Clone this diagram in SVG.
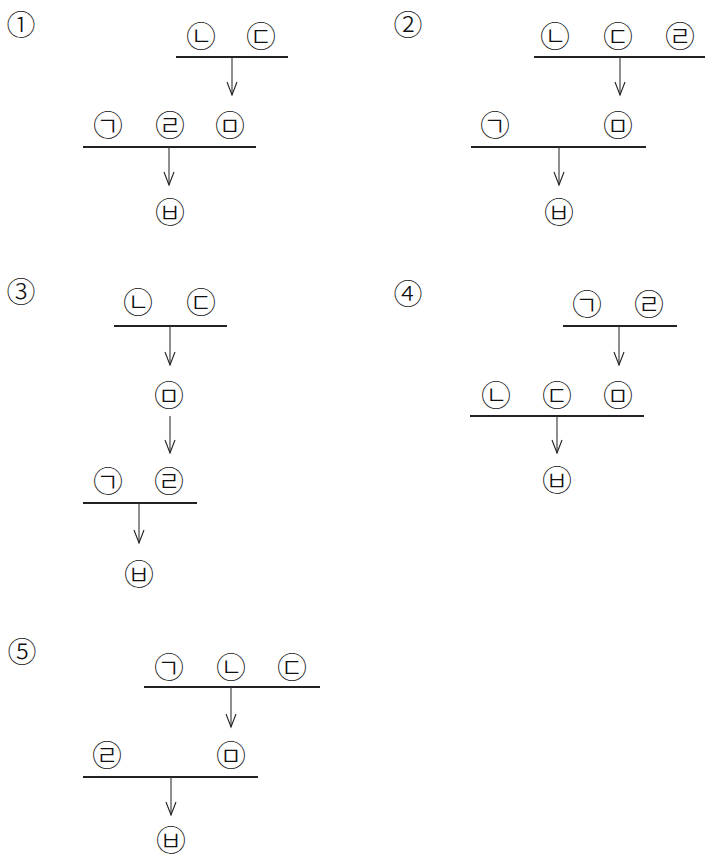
<svg xmlns="http://www.w3.org/2000/svg" width="706" height="856" viewBox="0 0 706 856">
<defs>
<marker id="arr" markerUnits="userSpaceOnUse" markerWidth="16" markerHeight="14" refX="13" refY="5" orient="auto" overflow="visible">
<path d="M0,0 L13,5 L0,10" fill="none" stroke="#222" stroke-width="1.1"/>
</marker>
<style>
text{font-family:"Noto Sans CJK KR","Noto Sans",sans-serif;font-size:30px;font-weight:300;fill:#111;text-anchor:middle;dominant-baseline:central}
.num{font-size:29px}
.bar{stroke:#222;stroke-width:1.8}
.arrow{stroke:#333;stroke-width:1.1;fill:none;marker-end:url(#arr)}
</style>
</defs>
<rect width="706" height="856" fill="#fff"/>

<g id="labels">
<text class="num" x="21" y="23">①</text>
<text class="num" x="408" y="23">②</text>
<text class="num" x="21" y="290">③</text>
<text class="num" x="408" y="292">④</text>
<text class="num" x="22" y="650">⑤</text>
</g>

<g id="p1">
<g id="p1-n-b"><text x="201" y="34">㉡</text></g>
<g id="p1-n-c"><text x="261" y="34">㉢</text></g>
<g id="p1-n-a"><text x="108" y="123">㉠</text></g>
<g id="p1-n-d"><text x="170" y="123">㉣</text></g>
<g id="p1-n-e"><text x="230" y="123">㉤</text></g>
<g id="p1-n-f"><text x="170" y="210">㉥</text></g>
</g>

<g id="p2">
<g id="p2-n-b"><text x="555" y="34">㉡</text></g>
<g id="p2-n-c"><text x="618" y="34">㉢</text></g>
<g id="p2-n-d"><text x="680" y="34">㉣</text></g>
<g id="p2-n-a"><text x="495" y="123">㉠</text></g>
<g id="p2-n-e"><text x="618" y="123">㉤</text></g>
<g id="p2-n-f"><text x="559" y="210">㉥</text></g>
</g>

<g id="p3">
<g id="p3-n-b"><text x="138" y="300">㉡</text></g>
<g id="p3-n-c"><text x="201" y="300">㉢</text></g>
<g id="p3-n-e"><text x="169" y="393">㉤</text></g>
<g id="p3-n-a"><text x="108" y="479">㉠</text></g>
<g id="p3-n-d"><text x="169" y="479">㉣</text></g>
<g id="p3-n-f"><text x="139" y="572">㉥</text></g>
</g>

<g id="p4">
<g id="p4-n-a"><text x="587" y="302">㉠</text></g>
<g id="p4-n-d"><text x="649" y="302">㉣</text></g>
<g id="p4-n-b"><text x="496" y="393">㉡</text></g>
<g id="p4-n-c"><text x="557" y="393">㉢</text></g>
<g id="p4-n-e"><text x="618" y="393">㉤</text></g>
<g id="p4-n-f"><text x="557" y="478">㉥</text></g>
</g>

<g id="p5">
<g id="p5-n-a"><text x="169" y="665">㉠</text></g>
<g id="p5-n-b"><text x="231" y="665">㉡</text></g>
<g id="p5-n-c"><text x="292" y="665">㉢</text></g>
<g id="p5-n-d"><text x="107" y="753">㉣</text></g>
<g id="p5-n-e"><text x="231" y="753">㉤</text></g>
<g id="p5-n-f"><text x="171" y="838">㉥</text></g>
</g>

<g id="connectors">
<line class="bar" x1="176" y1="57" x2="288" y2="57"/>
<line class="arrow" x1="232" y1="57" x2="232" y2="95"/>
<line class="bar" x1="83" y1="147" x2="256" y2="147"/>
<line class="arrow" x1="169" y1="147" x2="169" y2="185"/>

<line class="bar" x1="534" y1="57" x2="705" y2="57"/>
<line class="arrow" x1="620" y1="57" x2="620" y2="95"/>
<line class="bar" x1="471" y1="147" x2="646" y2="147"/>
<line class="arrow" x1="559" y1="147" x2="559" y2="185"/>

<line class="bar" x1="114" y1="326" x2="227" y2="326"/>
<line class="arrow" x1="170" y1="326" x2="170" y2="365"/>
<line class="arrow" x1="170" y1="416" x2="170" y2="453"/>
<line class="bar" x1="83" y1="503" x2="197" y2="503"/>
<line class="arrow" x1="139" y1="503" x2="139" y2="543"/>

<line class="bar" x1="563" y1="326" x2="677" y2="326"/>
<line class="arrow" x1="619" y1="326" x2="619" y2="365"/>
<line class="bar" x1="470" y1="416" x2="644" y2="416"/>
<line class="arrow" x1="557" y1="416" x2="557" y2="453"/>

<line class="bar" x1="144" y1="687" x2="320" y2="687"/>
<line class="arrow" x1="231" y1="687" x2="231" y2="727"/>
<line class="bar" x1="83" y1="777" x2="258" y2="777"/>
<line class="arrow" x1="171" y1="777" x2="171" y2="815"/>
</g>
</svg>
